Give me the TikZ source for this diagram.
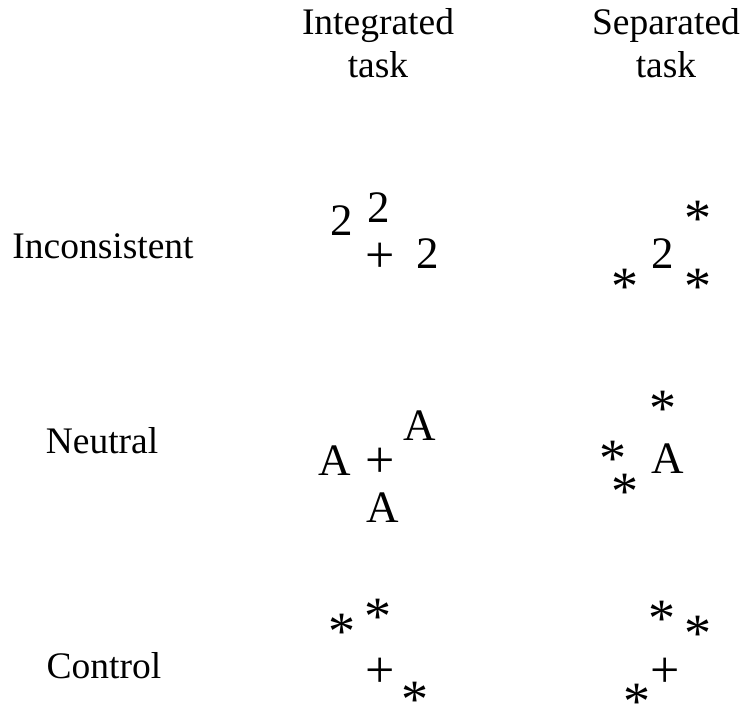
\documentclass[tikz,border=0pt]{standalone}
\usepackage{fontspec}
\setmainfont{Liberation Serif}
\usepackage{tikz}
\usetikzlibrary{positioning}
\tikzset{
    rowlabel/.style={
        font=\fontsize{37.5}{42}\selectfont, inner sep=0pt, anchor=base
    },
    stim/.style={
        font=\fontsize{45}{50}\selectfont, inner sep=0pt, anchor=base
    },
    astmark/.style={
        font=\fontsize{54}{58}\selectfont, inner sep=0pt, anchor=base
    },
    fixcross/.style={
        font=\fontsize{52}{56}\selectfont, inner sep=0pt, anchor=base
    }
}
\begin{document}
\begin{tikzpicture}[x=1pt, y=-1pt]
    \useasboundingbox (0,0) rectangle (743,709);

    % 1. TIÊU ĐỀ CỘT
    \node[rowlabel] (intHead) at (378,35) {Integrated};
    \node[rowlabel] (intTask) at (378,77) {task};
    \node[rowlabel] (sepHead) at (666,35) {Separated};
    \node[rowlabel] (sepTask) at (666,77) {task};

    % 2. NHÃN HÀNG
    \node[rowlabel] (incon) at (103,258) {Inconsistent};
    \node[rowlabel] (neutral) at (102,453) {Neutral};
    \node[rowlabel] (control) at (104,678) {Control};

    % 3. HÀNG INCONSISTENT
    \node[stim] (iiL) at (342,235) {2};
    \node[stim] (iiU) at (379,222) {2};
    \node[fixcross] (iiFix) at (380,272) {+};
    \node[stim] (iiR) at (428,268) {2};

    \node[astmark] (siU) at (698,236) {*};
    \node[stim] (siT) at (663,268) {2};
    \node[astmark] (siL) at (625,304) {*};
    \node[astmark] (siR) at (698,304) {*};

    % 4. HÀNG NEUTRAL
    \node[stim] (inU) at (420,440) {A};
    \node[stim] (inL) at (335,475) {A};
    \node[fixcross] (inFix) at (380,477) {+};
    \node[stim] (inD) at (383,522) {A};

    \node[astmark] (snU) at (663,426) {*};
    \node[astmark] (snL) at (613,476) {*};
    \node[stim] (snT) at (668,473) {A};
    \node[astmark] (snD) at (625,509) {*};

    % 5. HÀNG CONTROL
    \node[astmark] (icU) at (378,634) {*};
    \node[astmark] (icL) at (342,649) {*};
    \node[fixcross] (icFix) at (380,687) {+};
    \node[astmark] (icD) at (415,717) {*};

    \node[astmark] (scU) at (662,636) {*};
    \node[astmark] (scR) at (698,651) {*};
    \node[fixcross] (scFix) at (665,687) {+};
    \node[astmark] (scD) at (637,719) {*};
\end{tikzpicture}
\end{document}
